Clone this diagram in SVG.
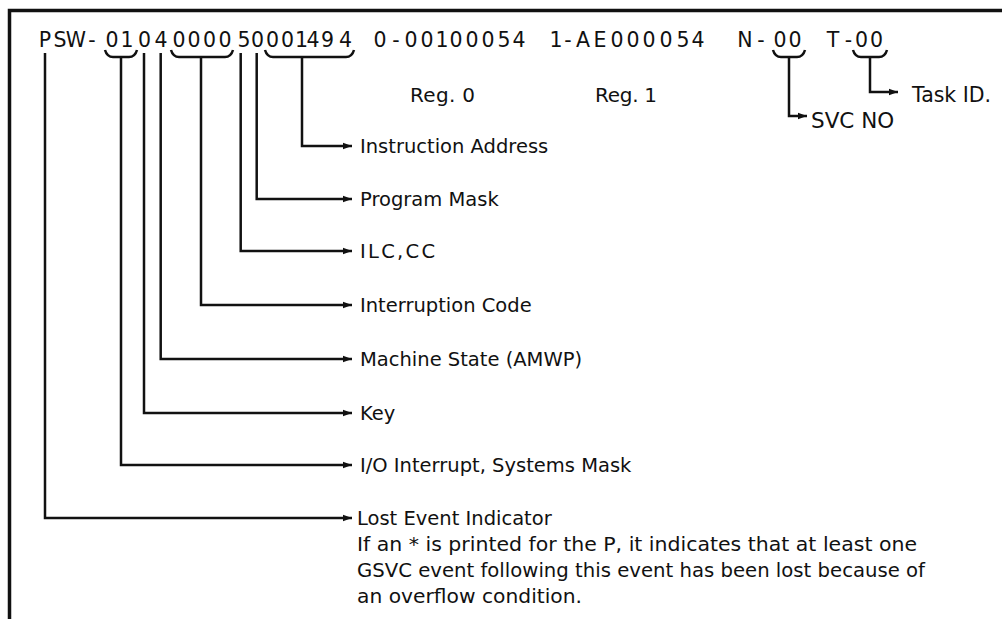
<svg xmlns="http://www.w3.org/2000/svg" width="1002" height="619" viewBox="0 0 1002 619">
  <style>
    .frame { fill: none; stroke: #111; stroke-width: 3.5; }
    .wire { fill: none; stroke: #111; stroke-width: 2.5; }
    .code { font-family: "DejaVu Sans", "Liberation Sans", sans-serif; font-size: 20.5px; fill: #111; text-anchor: middle; }
    .head { font-family: "DejaVu Sans", "Liberation Sans", sans-serif; font-size: 20px; fill: #111; }
    .lbl { font-family: "DejaVu Sans", "Liberation Sans", sans-serif; font-size: 19.5px; fill: #111; }
  </style>
  <defs>
    <marker id="tip" markerUnits="userSpaceOnUse" markerWidth="10" markerHeight="8" refX="9" refY="4" orient="auto">
      <path d="M0,0.8 L9,4 L0,7.2 Z" fill="#111"/>
    </marker>
  </defs>

  <rect width="1002" height="619" fill="#fff"/>

  <!-- outer frame: top rule and left rule, open at right and bottom -->
  <path class="frame" d="M9.5,619 V10.5 H1002"/>

  <!-- printed trace line -->
  <g id="trace-line">
    <text class="code" y="47" x="45 60 76 92 112 127 144.5 161 179 194 209.5 225 244 257.5 272.5 287.5 301.5 313 327.5 345.5">PSW-0104000050001494</text>
    <text class="code" y="47" x="380 396 411 427 442 456 472 488 504 519">0-00100054</text>
    <text class="code" y="47" x="556 568 583 600 617 633 649 666 683 698">1-AE000054</text>
    <text class="code" y="47" x="745 761 780 795">N-00</text>
    <text class="code" y="47" x="833 848.5 861.5 876.5">T-00</text>
  </g>

  <g id="register-labels">
    <text class="head" x="410" y="102" textLength="65" lengthAdjust="spacing">Reg. 0</text>
    <text class="head" x="595" y="102" textLength="62" lengthAdjust="spacing">Reg. 1</text>
  </g>

  <!-- braces, leader lines and arrows -->
  <g id="connectors">
    <path class="wire" d="M105,50 q2,7 8,7 H129 q6,0 8,-7"/>
    <path class="wire" d="M171,50 q2,7 8,7 H225 q6,0 8,-7"/>
    <path class="wire" d="M265,50 q2,7 8,7 H346 q6,0 8,-7"/>
    <path class="wire" d="M773,50 q2,7 8,7 H797 q6,0 8,-7"/>
    <path class="wire" d="M853,50 q2,7 8,7 H879 q6,0 8,-7"/>

    <path class="wire" marker-end="url(#tip)" d="M302,57 V146 H352"/>
    <path class="wire" marker-end="url(#tip)" d="M256.7,53 V199 H352"/>
    <path class="wire" marker-end="url(#tip)" d="M240.7,53 V251 H352"/>
    <path class="wire" marker-end="url(#tip)" d="M201,57 V305 H352"/>
    <path class="wire" marker-end="url(#tip)" d="M160.7,53 V359 H352"/>
    <path class="wire" marker-end="url(#tip)" d="M144,53 V413 H352"/>
    <path class="wire" marker-end="url(#tip)" d="M121,57 V465 H352"/>
    <path class="wire" marker-end="url(#tip)" d="M45,53 V518 H352"/>

    <path class="wire" marker-end="url(#tip)" d="M789,57 V116 H807"/>
    <path class="wire" marker-end="url(#tip)" d="M870,57 V92 H898"/>
  </g>

  <g id="field-instruction-address"><text class="lbl" x="360" y="153">Instruction Address</text></g>
  <g id="field-program-mask"><text class="lbl" x="360" y="206">Program Mask</text></g>
  <g id="field-ilc-cc"><text class="lbl" x="360" y="258" textLength="75" lengthAdjust="spacing">ILC,CC</text></g>
  <g id="field-interruption-code"><text class="lbl" x="360" y="312">Interruption Code</text></g>
  <g id="field-machine-state"><text class="lbl" x="360" y="366">Machine State (AMWP)</text></g>
  <g id="field-key"><text class="lbl" x="360" y="420">Key</text></g>
  <g id="field-io-mask"><text class="lbl" x="360" y="472">I/O Interrupt, Systems Mask</text></g>
  <g id="field-lost-event">
    <text class="lbl" x="357" y="525">Lost Event Indicator</text>
    <text class="lbl" x="357" y="551" textLength="560" lengthAdjust="spacingAndGlyphs">If an * is printed for the P, it indicates that at least one</text>
    <text class="lbl" x="357" y="577" textLength="568" lengthAdjust="spacingAndGlyphs">GSVC event following this event has been lost because of</text>
    <text class="lbl" x="357" y="603" textLength="225" lengthAdjust="spacingAndGlyphs">an overflow condition.</text>
  </g>
  <g id="field-svc-no"><text class="head" x="811" y="128" style="font-size:21.5px">SVC NO</text></g>
  <g id="field-task-id"><text class="head" x="912" y="102" style="font-size:20.5px">Task ID.</text></g>
</svg>
